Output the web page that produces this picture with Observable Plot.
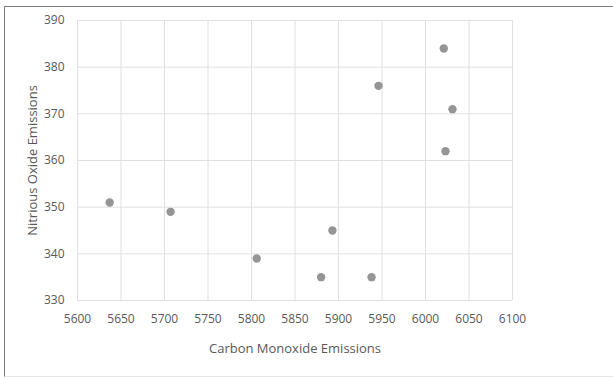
<!DOCTYPE html>
<html>
<head>
<meta charset="utf-8">
<script src="https://cdn.jsdelivr.net/npm/d3@7"></script>
<script src="https://cdn.jsdelivr.net/npm/@observablehq/plot@0.6"></script>
<style>
  html, body { margin: 0; padding: 0; background: #fff; }
  #wrap { position: relative; width: 613px; height: 377px; overflow: hidden; }
  #frame { position: absolute; left: 4px; top: 6px; width: 700px; height: 369px;
           border-top: 1px solid #7a7a7a; border-left: 1px solid #7a7a7a; border-bottom: 1px solid #e6e6e6; }
  #chart { position: absolute; left: 0; top: 0; }
</style>
</head>
<body>
<div id="wrap"><div id="frame"></div><div id="chart"></div></div>
<script>
const carbonMonoxide = [5637, 5707, 5806, 5880, 5893, 5938, 5946, 6021, 6031, 6023];
const nitriousOxide  = [351, 349, 339, 335, 345, 335, 376, 384, 371, 362];
const xTicks = [5600, 5650, 5700, 5750, 5800, 5850, 5900, 5950, 6000, 6050, 6100];
const yTicks = [330, 340, 350, 360, 370, 380, 390];

const data = carbonMonoxide.map((x, i) => ({x, y: nitriousOxide[i]}));

const chart = Plot.plot({
  width: 613,
  height: 377,
  marginLeft: 77,
  marginRight: 101,
  marginTop: 20,
  marginBottom: 77,
  style: {fontFamily: "'Open Sans', sans-serif", fontSize: "12px", color: "#595959", background: "transparent"},
  x: {domain: [5600, 6100], ticks: xTicks, label: null},
  y: {domain: [330, 390], ticks: yTicks, label: null},
  marks: [
    Plot.gridX(xTicks, {stroke: "#e0e0e0", strokeOpacity: 1, strokeWidth: 1}),
    Plot.gridY(yTicks, {stroke: "#e0e0e0", strokeOpacity: 1, strokeWidth: 1}),
    Plot.axisX(xTicks, {tickSize: 0, tickPadding: 14, fill: "#595959", fontSize: 12,
      tickFormat: d3.format("d"), label: null}),
    Plot.axisY(yTicks, {tickSize: 0, tickPadding: 13, fill: "#595959", fontSize: 12,
      tickFormat: d3.format("d"), label: null}),
    Plot.text(["Carbon Monoxide Emissions"], {frameAnchor: "bottom", dy: 48, fontSize: 13,
      fill: "#595959", lineAnchor: "middle"}),
    Plot.text(["Nitrious Oxide Emissions"], {frameAnchor: "left", dx: -45, rotate: -90, fontSize: 13,
      fill: "#595959", lineAnchor: "middle", textAnchor: "middle"}),
    Plot.dot(data, {x: "x", y: "y", r: 4.2, fill: "#959595", stroke: "none"})
  ]
});
document.getElementById("chart").appendChild(chart);
</script>
</body>
</html>
